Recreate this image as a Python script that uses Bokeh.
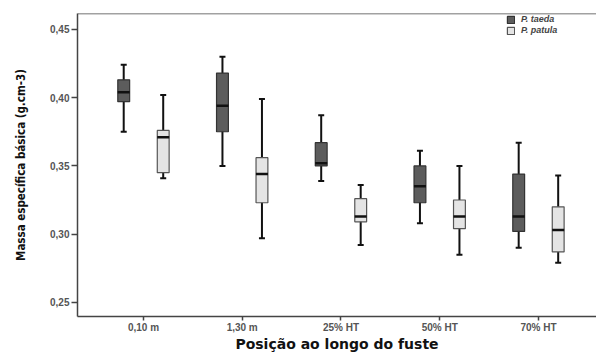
from bokeh.plotting import figure
from bokeh.models import (ColumnDataSource, Whisker, TeeHead, Legend, LegendItem,
                          FixedTicker, Range1d, Span)
from bokeh.transform import dodge
from bokeh.embed import file_html
from bokeh.resources import INLINE

categories = ["0,10 m", "1,30 m", "25% HT", "50% HT", "70% HT"]
positions = [1, 2, 3, 4, 5]

# P. taeda: lower whisker, Q1, median, Q3, upper whisker
taeda_low = [0.375, 0.350, 0.339, 0.308, 0.290]
taeda_q1 = [0.397, 0.375, 0.350, 0.323, 0.302]
taeda_med = [0.404, 0.394, 0.352, 0.335, 0.313]
taeda_q3 = [0.413, 0.418, 0.367, 0.350, 0.344]
taeda_high = [0.424, 0.430, 0.387, 0.361, 0.367]

# P. patula
patula_low = [0.341, 0.297, 0.292, 0.285, 0.279]
patula_q1 = [0.345, 0.323, 0.309, 0.304, 0.287]
patula_med = [0.371, 0.344, 0.313, 0.313, 0.303]
patula_q3 = [0.376, 0.356, 0.326, 0.325, 0.320]
patula_high = [0.402, 0.399, 0.336, 0.350, 0.343]

y_ticks = [0.25, 0.30, 0.35, 0.40, 0.45]
y_tick_labels = ["0,25", "0,30", "0,35", "0,40", "0,45"]

y_start, y_end = 0.2397, 0.4616

p = figure(width=596, height=354, output_backend="svg", toolbar_location=None,
           x_range=Range1d(0.332, 5.588), y_range=Range1d(y_start, y_end),
           min_border_left=77, min_border_right=0, min_border_top=13, min_border_bottom=36)
p.outline_line_color = None
p.xgrid.visible = False
p.ygrid.visible = False

tick_font = "Liberation Sans"
for ax in (p.xaxis[0], p.yaxis[0]):
    ax.axis_line_color = "#444444"
    ax.axis_line_width = 1.5
    ax.major_tick_line_color = "#444444"
    ax.major_tick_line_width = 1.5
    ax.major_tick_in = 0
    ax.minor_tick_line_color = None
    ax.major_label_text_font = tick_font
    ax.major_label_text_font_style = "bold"
    ax.major_label_text_font_size = "10px"
    ax.major_label_text_color = "#555555"

p.xaxis.ticker = FixedTicker(ticks=positions)
p.xaxis.major_label_overrides = {pos: c for pos, c in zip(positions, categories)}
p.xaxis.major_tick_out = 4
p.xaxis.major_label_standoff = 1
p.xaxis.axis_label = "Posição ao longo do fuste"
p.xaxis.axis_label_text_font = "DejaVu Sans"
p.xaxis.axis_label_text_font_style = "bold"
p.xaxis.axis_label_text_font_size = "14px"
p.xaxis.axis_label_text_color = "#111111"
p.xaxis.axis_label_standoff = 0

p.yaxis.ticker = FixedTicker(ticks=y_ticks)
p.yaxis.major_label_overrides = {t: l for t, l in zip(y_ticks, y_tick_labels)}
p.yaxis.major_tick_out = 6
p.yaxis.major_label_standoff = 2
p.yaxis.axis_label = "Massa específica básica (g.cm-3)"
p.yaxis.axis_label_text_font = "DejaVu Sans Condensed"
p.yaxis.axis_label_text_font_style = "bold"
p.yaxis.axis_label_text_font_size = "11.5px"
p.yaxis.axis_label_text_color = "#111111"
p.yaxis.axis_label_standoff = 19

# top frame line (the frame is open on the right)
p.add_layout(Span(location=y_end, dimension="width", line_color="#444444", line_width=1.5))

def series(low, q1, med, q3, high, offset, fill, outline):
    src = ColumnDataSource(dict(x=positions, low=low, q1=q1, med=med, q3=q3, high=high))
    xs = dodge("x", offset, range=p.x_range)
    w = Whisker(base=xs, lower="low", upper="high",
                dimension="height", source=src, line_color="#111111", line_width=2,
                level="underlay",
                upper_head=TeeHead(size=6, line_width=2, line_color="#111111"),
                lower_head=TeeHead(size=6, line_width=2, line_color="#111111"))
    p.add_layout(w)
    r = p.vbar(x=xs, top="q3", bottom="q1", width=0.12,
               source=src, fill_color=fill, line_color=outline, line_width=1.2)
    p.dash(x=xs, y="med", size=12, line_width=2.5, line_color="#111111", source=src)
    return r

r_taeda = series(taeda_low, taeda_q1, taeda_med, taeda_q3, taeda_high, -0.2, "#5c5c5c", "#333333")
r_patula = series(patula_low, patula_q1, patula_med, patula_q3, patula_high, 0.2, "#e4e4e4", "#555555")

legend = Legend(items=[LegendItem(label="P. taeda", renderers=[r_taeda]),
                       LegendItem(label="P. patula", renderers=[r_patula])],
                location=(429, 281), border_line_color=None, background_fill_alpha=0,
                padding=0, margin=0, spacing=1, glyph_width=9, glyph_height=9,
                label_height=10, label_standoff=6,
                label_text_font="Liberation Sans", label_text_font_style="bold italic",
                label_text_font_size="9px", label_text_color="#444444")
p.add_layout(legend)

open("out.html", "w").write(file_html(p, INLINE))
